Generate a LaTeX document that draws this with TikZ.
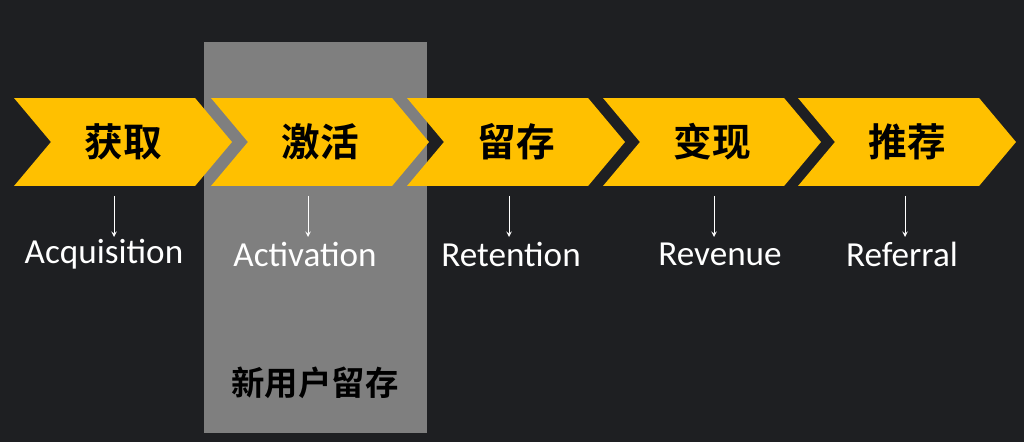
\documentclass[tikz,border=0pt]{standalone}
\usepackage{fontspec}
\setmainfont{Carlito}
\newfontfamily\cjk{Noto Sans CJK SC}[BoldFont={* Bold}]
\usetikzlibrary{shapes.symbols,positioning}
\definecolor{bgdark}{HTML}{1E1F22}
\definecolor{chevyellow}{HTML}{FFC000}
\definecolor{panelgray}{HTML}{7F7F7F}

\begin{document}
\begin{tikzpicture}[x=0.02cm, y=-0.02cm, >=stealth,
    stage/.style={signal, signal to=east, signal from=west, signal pointer angle=100,
        fill=chevyellow, draw=none, minimum width=4.36cm, minimum height=1.76cm,
        inner sep=0pt, font=\cjk\bfseries\fontsize{22}{26}\selectfont, text=black},
    eng/.style={text=white, font=\fontsize{20}{24}\selectfont, inner sep=0pt}]
    % Background
    \fill[bgdark] (0,0) rectangle (1024,442);
    \useasboundingbox (0,0) rectangle (1024,442);
    \fill[panelgray] (204,42) rectangle (427,433);
    \node[text=black, font=\cjk\bfseries\fontsize{19}{23}\selectfont] (newuser) at (315,383) {新用户留存};
    % Stages
    \node[stage] (acq) at (123,142) {获取};
    \node[stage] (act) at (320,142) {激活};
    \node[stage] (ret) at (516,142) {留存};
    \node[stage] (rev) at (712,142) {变现};
    \node[stage] (ref) at (907,142) {推荐};
    % English names
    \node[eng] (acqtxt) at (104,254) {Acquisition};
    \node[eng] (acttxt) at (305,254) {Activation};
    \node[eng] (rettxt) at (511,254) {Retention};
    \node[eng] (revtxt) at (720,254) {Revenue};
    \node[eng] (reftxt) at (902,254) {Referral};
    % Arrows
    \foreach \s/\t/\x in {acq/acqtxt/114, act/acttxt/308, ret/rettxt/509, rev/revtxt/714, ref/reftxt/905}
        \draw[->, white, thin] (\x,196) coordinate (\s top) -- (\x,237) coordinate (\t top);
\end{tikzpicture}
\end{document}
